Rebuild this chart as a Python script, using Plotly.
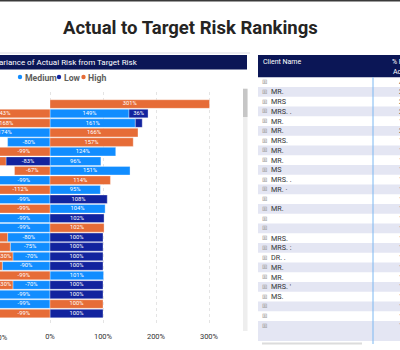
import plotly.graph_objects as go

# ---------------- data ----------------
CLIENTS = [f"Client {i}" for i in range(1, 24)]
MEDIUM = [None, 1.49, 1.61, -1.74, -0.80, 1.24, 0.96, 1.51, -0.99, 0.95, -0.99, 1.04,
          -0.99, -0.99, -0.80, -0.75, -0.70, -0.90, 1.01, -0.70, -0.99, -0.99, None]
LOW = [None, 0.36, 0.13, None, None, None, -0.83, None, None, None, 1.08, None,
       1.02, None, 1.00, 1.00, 1.00, 1.00, None, 1.00, 1.00, None, 1.00]
HIGH = [3.01, -2.43, -1.68, 1.66, 1.57, -0.99, -1.20, -0.67, 1.14, -1.12, None, -0.99,
        None, 1.02, -1.10, -1.00, -0.30, -0.80, -0.99, -0.30, None, 1.00, -0.99]
SERIES = ["Medium", "Low", "High"]
TICK_VALS = [0, 1, 2, 3]
TICK_TEXT = ["0%", "100%", "200%", "300%"]

TABLE_NAMES = ["", "MR.", "MRS", "MRS. .", "MR.", "MR.", "MRS.", "MR.", "MR.", "MS",
               "MRS. .", "MR. \u00b7", "", "MR.", "", "", "MRS.", "MRS. :", "DR. .",
               "MR.", "MR.", "MRS. '", "MS.", "", "", ""]
TABLE_PCT = ["401%", "249%", "261%", "243%", "174%", "201%", "180%", "167%", "157%",
             "151%", "149%", "124%", "114%", "112%", "108%", "104%", "102%", "102%",
             "101%", "100%", "100%", "100%", "100%", "100%", "100%", "100%"]

COLORS = {"Medium": "#118DFF", "Low": "#12239E", "High": "#E66C37"}
NAVY = "#0B1656"
PBI_AXIS_MIN = -1.79   # left end of the (off-screen) Power BI value axis
FONT = "Roboto, 'Segoe UI', sans-serif"

W, H = 400, 350
def px(x):
    return x / W
def py(y):
    return 1 - y / H

fig = go.Figure()

# ---------------- stacked diverging bars ----------------
vals = {"Medium": MEDIUM, "Low": LOW, "High": HIGH}
segs = {s: {"y": [], "base": [], "len": []} for s in SERIES}
lab_x, lab_y, lab_t = [], [], []
for i, c in enumerate(CLIENTS):
    pos, neg = 0.0, 0.0
    for s in SERIES:
        v = vals[s][i]
        if v is None:
            continue
        if v >= 0:
            b, e = pos, pos + v
            pos = e
        else:
            b, e = neg, neg + v
            neg = e
        b, e = max(b, PBI_AXIS_MIN), max(e, PBI_AXIS_MIN)
        segs[s]["y"].append(c)
        segs[s]["base"].append(b)
        segs[s]["len"].append(e - b)
        if abs(v) >= 0.2:
            lab_x.append((b + e) / 2)
            lab_y.append(c)
            lab_t.append(f"{round(v * 100)}%")

for s in SERIES:
    fig.add_trace(go.Bar(
        y=segs[s]["y"], x=segs[s]["len"], base=segs[s]["base"], orientation="h",
        marker=dict(color=COLORS[s], line=dict(color="rgba(255,255,255,0.55)", width=0.6)),
        name=s, showlegend=False, hoverinfo="skip"))

fig.add_trace(go.Scatter(
    x=lab_x, y=lab_y, text=lab_t, mode="text", textposition="middle center",
    textfont=dict(family=FONT, size=5.8, color="white"), showlegend=False,
    hoverinfo="skip", cliponaxis=True))

fig.update_layout(
    width=W, height=H, margin=dict(l=0, r=0, t=0, b=0),
    paper_bgcolor="white", plot_bgcolor="white",
    barmode="overlay", bargap=0.1,
    font=dict(family=FONT),
    xaxis=dict(domain=[0, px(240)], range=[-50 / 53, 190 / 53],
               tickvals=TICK_VALS, ticktext=TICK_TEXT,
               tickfont=dict(size=7.5, color="#333333"), ticklabelstandoff=5,
               showgrid=True, gridcolor="#E4E4E4", griddash="dot", gridwidth=1,
               zeroline=False, showline=False, fixedrange=True),
    yaxis=dict(domain=[py(325.2), py(92.4)], categoryorder="array",
               categoryarray=CLIENTS, autorange="reversed",
               showticklabels=False, showgrid=False, zeroline=False, fixedrange=True),
)

shapes = []
ann = []

def rect(x0, y0, x1, y1, color):
    shapes.append(dict(type="rect", xref="paper", yref="paper", x0=px(x0), x1=px(x1),
                       y0=py(y1), y1=py(y0), fillcolor=color, line=dict(width=0), layer="below"))

def text(x, y, t, size, color, xanchor="left", bold=False, family=FONT):
    ann.append(dict(xref="paper", yref="paper", x=px(x), y=py(y), text=(f"<b>{t}</b>" if bold else t),
                    showarrow=False, xanchor=xanchor, yanchor="middle",
                    font=dict(size=size, color=color, family=family)))

# top frame line
rect(0, 0, 400, 1.5, "#3A3A3A")
# title
text(190, 28.5, "Actual to Target Risk Rankings", 18.5, "#252423", xanchor="center", bold=True)
# chart frame line + header
rect(0, 52.5, 250, 53.5, "#DCDCE4")
rect(0, 55, 247, 69.5, NAVY)
text(-8.5, 62.5, "Variance of Actual Risk from Target Risk", 8, "white")
# legend
for (cx, s, tx) in [(20, "Medium", 22.5), (59, "Low", 61.5), (83.5, "High", 86)]:
    shapes.append(dict(type="circle", xref="paper", yref="paper",
                       x0=px(cx - 2.2), x1=px(cx + 2.2), y0=py(77 + 2.2), y1=py(77 - 2.2),
                       fillcolor=COLORS[s], line=dict(width=0)))
    text(tx, 77.5, s, 8.7, "#605E5C", bold=True)
# off-screen part of the axis tick label
text(-3, 337.5, "-100%", 7.5, "#333333", xanchor="center")
# scroll bar of the chart
rect(243, 88, 247.5, 331, "#EEEEEE")
rect(243, 89, 247.5, 117, "#C6C6C6")

# ---------------- table ----------------
rect(258, 55, 400, 77.3, NAVY)
text(261, 62, "Client Name", 7, "white")
text(390, 62, "% Risk", 7, "white")
text(390.5, 72, "Actual", 7, "white")
pitch = 9.75
top = 77.3
for i, (nm, pc) in enumerate(zip(TABLE_NAMES, TABLE_PCT)):
    y0 = top + i * pitch
    h = pitch if i < len(TABLE_NAMES) - 1 else 20
    if i % 2 == 1:
        rect(258, y0, 400, y0 + h, "#E4E6F3")
    yc = y0 + pitch / 2
    text(264, yc, "\u229e", 6.5, "#A0A0A0", xanchor="center", family="DejaVu Sans")
    if nm:
        text(269, yc, nm, 7.2, "#333333")
    text(397, yc, pc, 7.2, "#333333")
shapes.append(dict(type="line", xref="paper", yref="paper", x0=px(373), x1=px(373),
                   y0=py(344), y1=py(77.3), line=dict(color="#7DB8F2", width=1)))
shapes.append(dict(type="line", xref="paper", yref="paper", x0=px(262), x1=px(362),
                   y0=py(343.5), y1=py(343.5), line=dict(color="#DCDCDC", width=2)))

fig.update_layout(shapes=shapes, annotations=ann)
fig.write_html("out.html")
